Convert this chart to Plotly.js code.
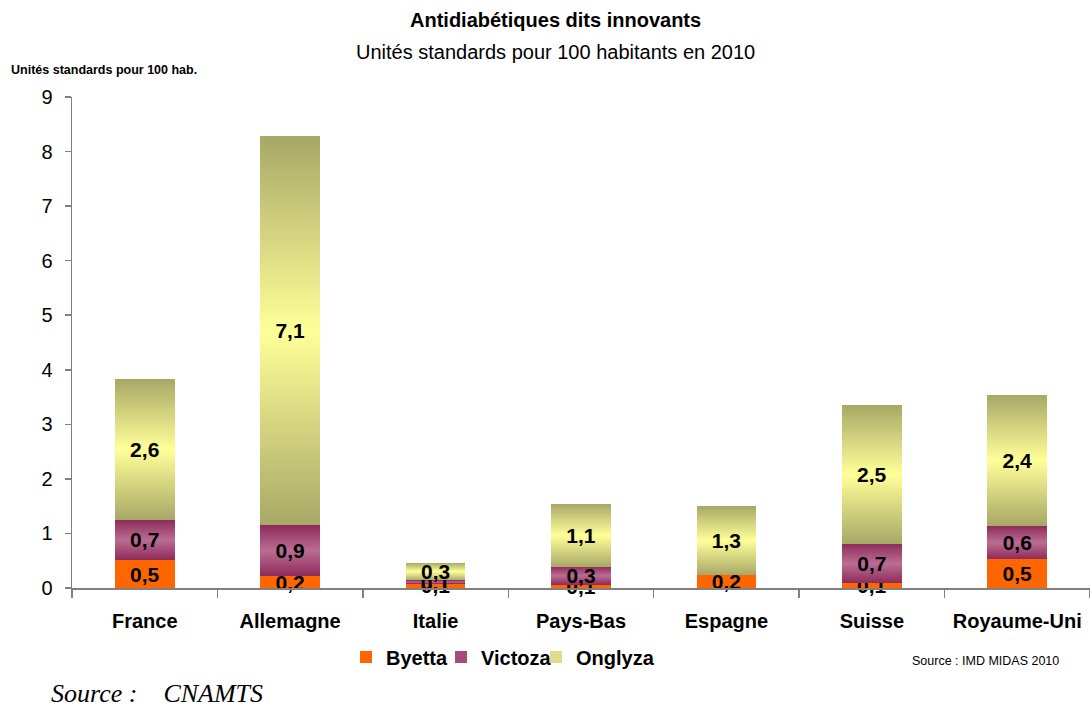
<!DOCTYPE html>
<html>
<head>
<meta charset="utf-8">
<script src="https://cdn.plot.ly/plotly-3.0.1.min.js"></script>
<style>
html,body{margin:0;padding:0;background:#fff;}
#chart{width:1090px;height:709px;}
</style>
</head>
<body>
<div id="chart"></div>
<script>
const categories = ['France','Allemagne','Italie','Pays-Bas','Espagne','Suisse','Royaume-Uni'];
const byetta  = [0.51, 0.22, 0.08, 0.06, 0.24, 0.09, 0.53];
const victoza = [0.74, 0.93, 0.06, 0.33, 0.00, 0.72, 0.61];
const onglyza = [2.58, 7.13, 0.32, 1.15, 1.26, 2.54, 2.40];
const yTicks = [0,1,2,3,4,5,6,7,8,9];

const SANS = '"Liberation Sans", Arial, sans-serif';

function lbl(arr){ return arr.map(v => v > 0 ? v.toFixed(1).replace('.', ',') : ''); }

function mk(name, vals, color, leg){
  return {
    type:'bar', name:name, x:categories, y:vals, legend:leg,
    text:lbl(vals), textposition:'inside', insidetextanchor:'middle',
    textangle:0, cliponaxis:false,
    textfont:{family:SANS, size:21, color:'#000', weight:'bold'},
    marker:{color:color, line:{width:0}},
    hoverinfo:'x+y+name'
  };
}

const data = [
  mk('Byetta', byetta, '#FF6600', 'legend'),
  mk('Victoza', victoza, '#A44D78', 'legend2'),
  mk('Onglyza', onglyza, '#DEDE8A', 'legend3')
];

const L = 72, T = 97, W = 1090, H = 709, R = 0, B = 121;
const pw = W - L - R, ph = H - T - B;
const px = x => (x - L) / pw;
const py = y => (H - B - y) / ph;

function legAt(xpix){
  return {orientation:'h', x:px(xpix), y:py(657), xanchor:'left', yanchor:'middle',
    font:{family:SANS, size:20, color:'#000', weight:'bold'},
    itemwidth:30, bgcolor:'rgba(0,0,0,0)', borderwidth:0};
}

const layout = {
  width:W, height:H,
  margin:{l:L, r:R, t:T, b:B, pad:0},
  paper_bgcolor:'#fff', plot_bgcolor:'#fff',
  barmode:'stack', bargap:0.59,
  uniformtext:{mode:'show', minsize:21},
  showlegend:true,
  legend:legAt(346),
  legend2:legAt(441),
  legend3:legAt(536),
  xaxis:{type:'category', showline:true, linecolor:'#808080', linewidth:1.5,
    ticks:'outside', tickson:'boundaries', ticklen:8, tickcolor:'#808080', tickwidth:1.5,
    tickangle:0, showgrid:false, zeroline:false, ticklabelstandoff:14,
    tickfont:{family:SANS, size:20, color:'#000', weight:'bold'}},
  yaxis:{range:[0,9], tickvals:yTicks, ticktext:yTicks.map(String),
    showline:true, linecolor:'#808080', linewidth:1.5,
    ticks:'outside', ticklen:6, tickcolor:'#808080', tickwidth:1.5,
    showgrid:false, zeroline:false, ticklabelstandoff:8,
    tickfont:{family:SANS, size:20, color:'#000'}},
  annotations:[
    {xref:'paper', yref:'paper', x:px(555), y:py(20), xanchor:'center', yanchor:'middle', showarrow:false,
     text:'<b>Antidiabétiques dits innovants</b>', font:{family:SANS, size:20, color:'#000'}},
    {xref:'paper', yref:'paper', x:px(555), y:py(52), xanchor:'center', yanchor:'middle', showarrow:false,
     text:'Unités standards pour 100 habitants en 2010', font:{family:SANS, size:20, color:'#000'}},
    {xref:'paper', yref:'paper', x:px(9), y:py(70), xanchor:'left', yanchor:'middle', showarrow:false,
     text:'<b>Unités standards pour 100 hab.</b>', font:{family:SANS, size:12.5, color:'#000'}},
    {xref:'paper', yref:'paper', x:px(985), y:py(661), xanchor:'center', yanchor:'middle', showarrow:false,
     text:'Source : IMD MIDAS 2010', font:{family:SANS, size:12.5, color:'#000'}},
    {xref:'paper', yref:'paper', x:px(50), y:py(709), xanchor:'left', yanchor:'bottom', showarrow:false, borderpad:0,
     text:'<i>Source :&nbsp;&nbsp;&nbsp;&nbsp;CNAMTS</i>', font:{family:'"Liberation Serif", "Times New Roman", serif', size:26, color:'#000'}}
  ]
};

function addGradients(gd){
  const svg = gd.querySelector('.main-svg');
  const ns = 'http://www.w3.org/2000/svg';
  const defs = document.createElementNS(ns, 'defs');
  const grads = {
    gV:[['0','#8E2B5B'],['0.5','#BA6D92'],['1','#8E2B5B']],
    gO:[['0','#A8A867'],['0.5','#FFFF99'],['1','#A8A867']]
  };
  Object.keys(grads).forEach(id => {
    const lg = document.createElementNS(ns, 'linearGradient');
    lg.setAttribute('id', id);
    lg.setAttribute('x1','0'); lg.setAttribute('y1','0');
    lg.setAttribute('x2','0'); lg.setAttribute('y2','1');
    grads[id].forEach(s => {
      const st = document.createElementNS(ns, 'stop');
      st.setAttribute('offset', s[0]);
      st.setAttribute('stop-color', s[1]);
      lg.appendChild(st);
    });
    defs.appendChild(lg);
  });
  svg.insertBefore(defs, svg.firstChild);
  const fills = {Victoza:'url(#gV)', Onglyza:'url(#gO)'};
  gd.querySelectorAll('.barlayer .trace').forEach((tr, i) => {
    const f = fills[data[i].name];
    if (f) tr.querySelectorAll('.point path').forEach(p => { p.style.fill = f; });
  });
  gd.querySelectorAll('g.traces').forEach(tr => {
    const t = tr.querySelector('.legendtext');
    const f = t ? fills[t.textContent.trim()] : null;
    if (f) tr.querySelectorAll('.legendpoints path').forEach(p => { p.style.fill = f; });
  });
}

Plotly.newPlot('chart', data, layout, {displayModeBar:false, staticPlot:true})
  .then(gd => addGradients(gd));
</script>
</body>
</html>
